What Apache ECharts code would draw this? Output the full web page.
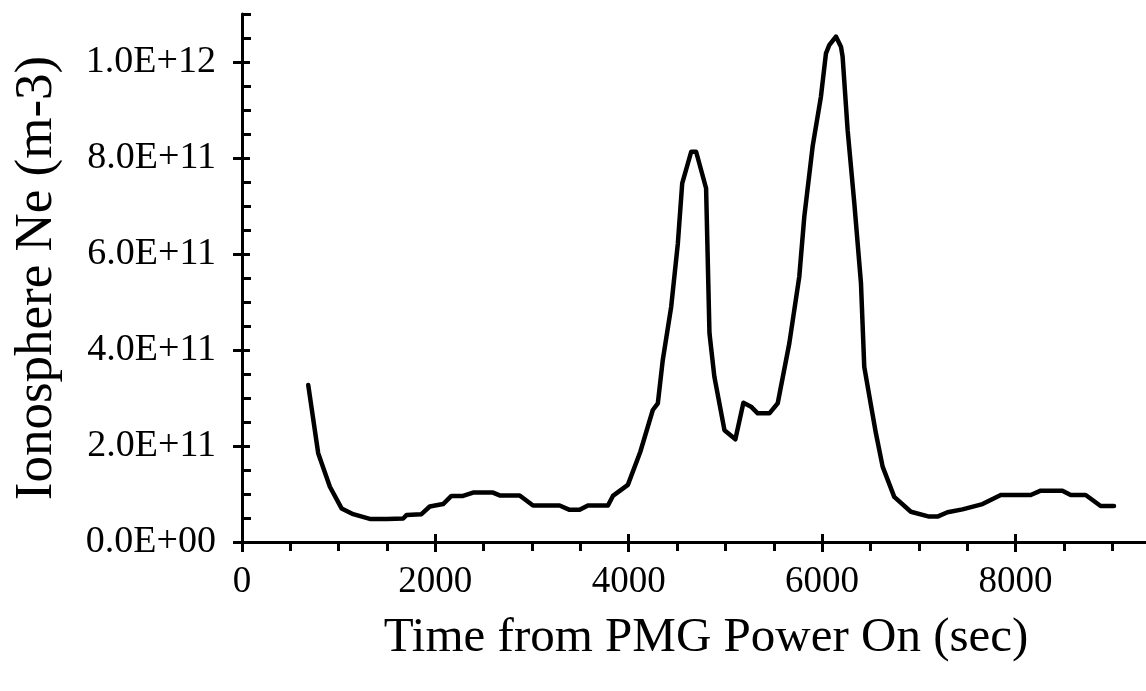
<!DOCTYPE html>
<html>
<head>
<meta charset="utf-8">
<script src="https://cdn.jsdelivr.net/npm/echarts@6/dist/echarts.min.js"></script>
<style>
html,body{margin:0;padding:0;background:#fff;}
#chart{width:1146px;height:691px;}
</style>
</head>
<body>
<div id="chart"></div>
<script>
// Time from PMG power on (sec)
const timeSec = [685, 788, 909, 1030, 1150, 1322, 1500, 1667, 1701, 1856, 1942, 2080, 2166, 2286, 2390, 2596, 2665, 2872, 3010, 3285, 3388, 3492, 3578, 3785, 3836, 3991, 4120, 4249, 4301, 4352, 4439, 4508, 4553, 4646, 4697, 4800, 4835, 4886, 4990, 5103, 5186, 5265, 5334, 5455, 5541, 5661, 5764, 5816, 5902, 5988, 6040, 6074, 6143, 6195, 6212, 6264, 6333, 6402, 6436, 6505, 6557, 6626, 6746, 6918, 7107, 7193, 7297, 7452, 7659, 7848, 8158, 8261, 8485, 8571, 8726, 8881, 9019];
// Ionosphere Ne (m-3)
const neValues = [3.27e11, 1.85e11, 1.15e11, 0.70e11, 0.58e11, 0.48e11, 0.48e11, 0.49e11, 0.56e11, 0.58e11, 0.74e11, 0.79e11, 0.96e11, 0.96e11, 1.03e11, 1.03e11, 0.97e11, 0.97e11, 0.76e11, 0.76e11, 0.67e11, 0.67e11, 0.76e11, 0.76e11, 0.96e11, 1.19e11, 1.88e11, 2.75e11, 2.89e11, 3.79e11, 4.90e11, 6.22e11, 7.47e11, 8.13e11, 8.13e11, 7.37e11, 4.35e11, 3.44e11, 2.33e11, 2.14e11, 2.90e11, 2.82e11, 2.68e11, 2.68e11, 2.89e11, 4.14e11, 5.53e11, 6.78e11, 8.24e11, 9.28e11, 10.18e11, 10.35e11, 10.53e11, 10.32e11, 10.11e11, 8.58e11, 7.06e11, 5.39e11, 3.65e11, 2.85e11, 2.26e11, 1.57e11, 0.94e11, 0.63e11, 0.53e11, 0.53e11, 0.62e11, 0.68e11, 0.79e11, 0.98e11, 0.98e11, 1.07e11, 1.07e11, 0.98e11, 0.98e11, 0.75e11, 0.75e11];

const xMajorTicks = [0, 2000, 4000, 6000, 8000];
const xTickLabels = ['0', '2000', '4000', '6000', '8000'];
const xMinorTicks = [500, 1000, 1500, 2500, 3000, 3500, 4500, 5000, 5500, 6500, 7000, 7500, 8500, 9000];
const yMajorTicks = [0, 2e11, 4e11, 6e11, 8e11, 1e12];
const yTickLabels = ['0.0E+00', '2.0E+11', '4.0E+11', '6.0E+11', '8.0E+11', '1.0E+12'];
const yMinorTicks = [0.5e11, 1e11, 1.5e11, 2.5e11, 3e11, 3.5e11, 4.5e11, 5e11, 5.5e11, 6.5e11, 7e11, 7.5e11, 8.5e11, 9e11, 9.5e11, 10.5e11, 11e11];

const FONT = 'Liberation Serif';
const xMin = 0, xMax = 9350, yMin = 0, yMax = 1.1e12;
const black = '#000';

const chart = echarts.init(document.getElementById('chart'), null, {renderer: 'canvas'});

function xAx(extra) {
  return Object.assign({
    type: 'value', min: xMin, max: xMax, gridIndex: 0, position: 'bottom',
    splitLine: {show: false},
    axisLine: {show: false, onZero: false},
    axisLabel: {show: false},
    axisTick: {show: false}
  }, extra);
}
function yAx(extra) {
  return Object.assign({
    type: 'value', min: yMin, max: yMax, gridIndex: 0, position: 'left',
    splitLine: {show: false},
    axisLine: {show: false, onZero: false},
    axisLabel: {show: false},
    axisTick: {show: false}
  }, extra);
}

chart.setOption({
  animation: false,
  backgroundColor: '#fff',
  grid: {left: 242, right: 0, top: 14, bottom: 149, containLabel: false},
  xAxis: [
    xAx({
      axisLine: {show: true, onZero: false, lineStyle: {color: black, width: 3}},
      axisTick: {show: true, inside: false, length: 10, customValues: xMajorTicks, lineStyle: {color: black, width: 3}},
      axisLabel: {
        show: true, customValues: xMajorTicks, margin: 22, color: black, fontFamily: FONT, fontSize: 37,
        formatter: function (v) { const i = xMajorTicks.indexOf(v); return i >= 0 ? xTickLabels[i] : ''; }
      },
      name: 'Time from PMG Power On (sec)', nameLocation: 'middle', nameGap: 72,
      nameTextStyle: {color: black, fontFamily: FONT, fontSize: 49, padding: [0, 0, 0, 24]}
    }),
    xAx({axisTick: {show: true, inside: true, length: 8, customValues: xMajorTicks, lineStyle: {color: black, width: 3}}}),
    xAx({axisTick: {show: true, inside: false, length: 9, customValues: xMinorTicks, lineStyle: {color: black, width: 3}}})
  ],
  yAxis: [
    yAx({
      axisLine: {show: true, onZero: false, lineStyle: {color: black, width: 3}},
      axisTick: {show: true, inside: false, length: 9, customValues: yMajorTicks, lineStyle: {color: black, width: 3}},
      axisLabel: {
        show: true, customValues: yMajorTicks, margin: 26, color: black, fontFamily: FONT, fontSize: 38,
        formatter: function (v) { const i = yMajorTicks.indexOf(v); return i >= 0 ? yTickLabels[i] : ''; }
      },
      name: 'Ionosphere Ne (m-3)', nameLocation: 'middle', nameGap: 178,
      nameTextStyle: {color: black, fontFamily: FONT, fontSize: 53}
    }),
    yAx({axisTick: {show: true, inside: true, length: 8, customValues: yMajorTicks, lineStyle: {color: black, width: 3}}}),
    yAx({axisTick: {show: true, inside: true, length: 9, customValues: yMinorTicks, lineStyle: {color: black, width: 3}}})
  ],
  series: [{
    type: 'line',
    xAxisIndex: 0, yAxisIndex: 0,
    data: timeSec.map((t, i) => [t, neValues[i]]),
    showSymbol: false, symbol: 'none', smooth: false,
    lineStyle: {color: black, width: 4.5, join: 'round', cap: 'round'}
  }]
});
</script>
</body>
</html>
